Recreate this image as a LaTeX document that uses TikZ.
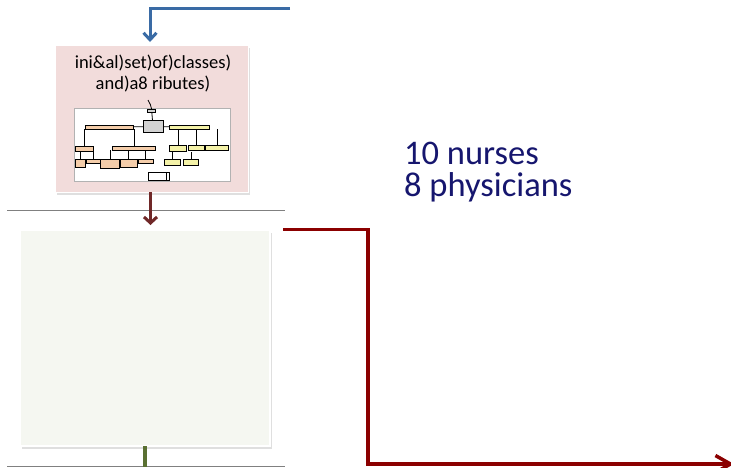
\documentclass[tikz,border=0pt]{standalone}
\usepackage{fontspec}
\setmainfont{Carlito}
\usetikzlibrary{arrows.meta,shadows}

\definecolor{flowblue}{RGB}{58,107,165}
\definecolor{flowred}{RGB}{139,0,0}
\definecolor{downred}{RGB}{112,40,40}
\definecolor{stemgreen}{RGB}{90,112,50}
\definecolor{pinkfill}{RGB}{242,220,219}
\definecolor{greenfill}{RGB}{245,247,241}
\definecolor{navytext}{RGB}{22,22,110}
\definecolor{clsorange}{RGB}{244,205,170}
\definecolor{clsyellow}{RGB}{244,242,168}

\begin{document}
\begin{tikzpicture}[x=1pt,y=-1pt]
  \def\lw{3pt}

\tikzstyle{panel}=[inner sep=0pt,outer sep=0pt,drop shadow={opacity=0.25,shadow xshift=2pt,shadow yshift=-3pt}]
\tikzstyle{cls}=[draw=black,line width=0.8pt,inner sep=0pt,outer sep=0pt]
\tikzstyle{ocls}=[cls,fill=clsorange]
\tikzstyle{ycls}=[cls,fill=clsyellow]
\tikzstyle{gcls}=[cls,fill=gray!35]
\tikzstyle{rule}=[draw=gray,line width=1pt]
\tikzstyle{link}=[line width=0.8pt]

\useasboundingbox (0,0) rectangle (731,467);

% pink panel
\node[panel,fill=pinkfill,draw=white,line width=1pt,minimum width=193pt,minimum height=147pt] (P1) at (151.5,118.5) {};
\node[anchor=base,font=\fontsize{18.5}{21}\selectfont,inner sep=0pt] (P1a) at (153,68.5) {ini\&al)set)of)classes)};
\node[anchor=base,font=\fontsize{18.5}{21}\selectfont,inner sep=0pt] (P1b) at (153,89.5) {and)a8 ributes)};

% class diagram thumbnail
\node[draw=gray!60,fill=white,line width=0.7pt,minimum width=156pt,minimum height=73pt,inner sep=0pt] (TH) at (152,144.5) {};
\node[gcls,minimum width=8pt,minimum height=3.4pt] (T0) at (151.7,111) {};
\node[gcls,minimum width=20pt,minimum height=11.6pt] (C0) at (153,126.5) {};
\node[ocls,minimum width=48pt,minimum height=4.3pt] (L1) at (109,127.2) {};
\node[ycls,minimum width=40pt,minimum height=4.3pt] (R1) at (189,127.2) {};
\node[ocls,minimum width=18pt,minimum height=5.7pt] (L2a) at (84.2,148.8) {};
\node[ocls,minimum width=43pt,minimum height=4pt] (L2b) at (134.3,148) {};
\node[ycls,minimum width=17.4pt,minimum height=6.7pt] (R2a) at (178,148.3) {};
\node[ycls,minimum width=15.7pt,minimum height=5pt] (R2b) at (196.2,147.5) {};
\node[ycls,minimum width=22.6pt,minimum height=5.7pt] (R2c) at (217,147.8) {};
\node[ocls,minimum width=10.7pt,minimum height=8pt] (L3a) at (80.3,163.3) {};
\node[ocls,minimum width=14pt,minimum height=4pt] (L3b) at (93,161.3) {};
\node[ocls,minimum width=18.6pt,minimum height=9pt] (L3c) at (110,163.8) {};
\node[ocls,minimum width=17.3pt,minimum height=8pt] (L3d) at (128.7,163.3) {};
\node[ocls,minimum width=15pt,minimum height=4pt] (L3e) at (145.8,161.3) {};
\node[ycls,minimum width=16.4pt,minimum height=5.7pt] (R3a) at (172.5,162.2) {};
\node[ycls,minimum width=15.4pt,minimum height=6.4pt] (R3b) at (191,162.5) {};
\node[cls,fill=white,minimum width=21pt,minimum height=7.3pt] (B0) at (158.8,176.3) {};
\coordinate (T0top) at (148,100);
\draw[link] (T0top) to[out=-70,in=90] (T0.north);
\draw[link] (T0) -- (C0);
\draw[link] (L1) -- (C0);
\draw[link] (C0) -- (R1);
\draw[link] (L2a.north) -- (L2a.north |- L1.south);
\draw[link] (L2b.north) -- (L2b.north |- L1.south);
\draw[link] (R2a.north) -- (R2a.north |- R1.south);
\draw[link] (R2b.north) -- (R2b.north |- R1.south);
\draw[link] (R2c.north) -- (R2c.north |- R1.south);
\draw[link] (L3a.north) -- (L3a.north |- L2a.south);
\draw[link] (L3b.north) -- (L3b.north |- L2a.south);
\draw[link] (L3c.north) -- (L3c.north |- L2b.south);
\draw[link] (L3d.north) -- (L3d.north |- L2b.south);
\draw[link] (L3e.north) -- (L3e.north |- L2b.south);
\draw[link] (R3a.north) -- (R3a.north |- R2a.south);
\draw[link] (R3b.north) -- (R3b.north |- R2a.south);
\draw[link] (B0.north east) ++(-3pt,0) -- ++(0,-7.5pt);

% incoming blue flow
\coordinate (B1) at (290,8.5);
\draw[flowblue,line width=\lw,-{Straight Barb[length=7pt,width=13pt]},shorten >=3pt] (B1) -| ([xshift=-1.5pt]P1.north);

% separators
\coordinate (S1a) at (7,210.5);
\coordinate (S1b) at (285,210.5);
\coordinate (S2a) at (7,466);
\coordinate (S2b) at (285,466);
\draw[rule] (S1a) -- (S1b);
\draw[rule] (S2a) -- (S2b);

% green panel
\node[panel,fill=greenfill,draw=white,line width=2pt,minimum width=250pt,minimum height=216pt] (G1) at (145,338) {};
\draw[downred,line width=\lw,-{Straight Barb[length=6pt,width=13pt]},shorten >=5pt] ([xshift=-1pt]P1.south) -- ([xshift=-1pt]P1.south |- G1.north);
\coordinate (G1end) at (145,467);
\draw[stemgreen,line width=3.3pt] (G1.south) -- (G1end);

% counts
\node[anchor=base west,font=\fontsize{34.5}{32}\selectfont,text=navytext,inner sep=0pt] (N1) at (404,164) {10 nurses};
\node[anchor=base west,font=\fontsize{34.5}{32}\selectfont,text=navytext,inner sep=0pt] (N2) at (404,196) {8 physicians};

% outgoing red flow
\coordinate (E0) at (283,229.5);
\coordinate (Ek) at (368,464);
\coordinate (E1) at (734,464);
\draw[black,opacity=0.15,line width=3.5pt,xshift=2pt,yshift=-2pt] (E0) -| (Ek) -- (E1);
\draw[flowred,line width=3.5pt,-{Straight Barb[length=15pt,width=17pt]}] (E0) -| (Ek) -- (E1);
\end{tikzpicture}
\end{document}
